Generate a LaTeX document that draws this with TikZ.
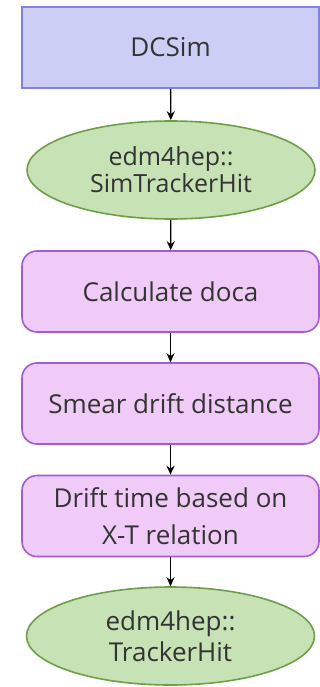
\documentclass[tikz,border=0pt]{standalone}
\usepackage{fontspec}
\setmainfont{Open Sans}
\usetikzlibrary{shapes.geometric,arrows.meta}
\definecolor{simfill}{HTML}{CDCEF6}
\definecolor{simline}{HTML}{7F83E6}
\definecolor{edmfill}{HTML}{C7E2B5}
\definecolor{edmline}{HTML}{6E9F48}
\definecolor{stepfill}{HTML}{F0CBF8}
\definecolor{stepline}{HTML}{A25DD6}
\definecolor{txt}{HTML}{333333}
\tikzset{
  base/.style={text=txt, font=\fontsize{26}{31}\selectfont, align=center, inner sep=0pt, line width=1.6pt},
  simbox/.style={base, draw=simline, fill=simfill, minimum width=297pt, minimum height=81pt},
  edm/.style={base, ellipse, draw=edmline, fill=edmfill, minimum width=288pt, minimum height=98pt},
  stepbox/.style={base, draw=stepline, fill=stepfill, rounded corners=15pt, minimum width=297pt, minimum height=81pt},
  flow/.style={-{Stealth[length=9pt,width=8pt]}, line width=1.4pt, black}
}
\begin{document}
\begin{tikzpicture}[x=1pt,y=-1pt]
\useasboundingbox (0,0) rectangle (320,687);
\node[simbox] (dcsim) at (170.5,47.5) {DCSim};
\node[edm, font=\fontsize{25}{27}\selectfont] (simhit) at (171,170) {edm4hep::\\SimTrackerHit};
\node[stepbox] (doca) at (170.5,291.5) {Calculate doca};
\node[stepbox] (smear) at (170.5,403.5) {Smear drift distance};
\node[stepbox, font=\fontsize{26}{37}\selectfont] (xt) at (170.5,516) {Drift time based on\\X-T relation};
\node[edm] (hit) at (170.5,636) {edm4hep::\\TrackerHit};
\draw[flow] (dcsim) -- (simhit);
\draw[flow] (simhit) -- (doca);
\draw[flow] (doca) -- (smear);
\draw[flow] (smear) -- (xt);
\draw[flow] (xt) -- (hit);
\end{tikzpicture}
\end{document}
